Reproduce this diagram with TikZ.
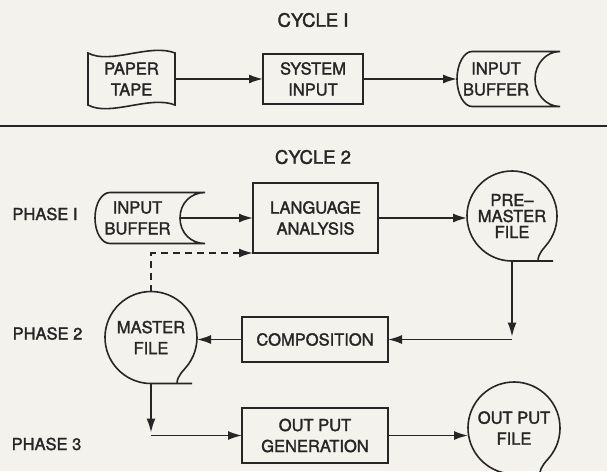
\documentclass[tikz,border=0pt]{standalone}
\usepackage{fontspec}
\setmainfont{TeX Gyre Heros}[FakeBold=1.8]
\usetikzlibrary{arrows.meta,positioning,calc}
\definecolor{paper}{RGB}{244,242,237}
\definecolor{ink}{RGB}{38,38,38}
% outline of an on-line storage symbol round a node
\newcommand{\drawbuffer}[1]{%
  \draw[flowline] (#1.west) .. controls +(0,-15) and +(-8,0) .. ([xshift=15pt]#1.north west)
    -- ([xshift=25pt]#1.north east) .. controls +(-14,0) and +(0,-15) .. (#1.east)
    .. controls +(0,15) and +(-14,0) .. ([xshift=25pt]#1.south east)
    -- ([xshift=15pt]#1.south west) .. controls +(-8,0) and +(0,15) .. (#1.west);}
% outline of a magnetic tape symbol round a node
\newcommand{\drawtapefile}[2]{%
  \draw[flowline] ([shift={(35:#2)}]#1.center) arc[start angle=35, end angle=-270, radius=#2] -- +(41,0);
  \draw[flowline] ([shift={(35:#2)}]#1.center) .. controls +(-5,7) and +(0,-8) .. ($(#1.center)+(26,#2)$);}

\begin{document}
\begin{tikzpicture}[x=1pt,y=-1pt] % pixel units, y grows downwards
\tikzset{every node/.style={font=\fontsize{16.5}{21}\selectfont, text=ink, align=center, inner sep=0pt, outer sep=0pt}}
\tikzset{flowline/.style={draw=ink, line width=1.6pt}}
\tikzset{arr/.style={flowline, -{Latex[length=14pt,width=9pt]}}}
\tikzset{procbox/.style={draw=ink, line width=1.6pt, rectangle}}
\tikzset{tapefile/.style={circle, minimum size=90pt}} % outline drawn by \drawtapefile
\tikzset{bufferbox/.style={minimum width=80pt, minimum height=53pt}}
\tikzset{titletext/.style={font=\fontsize{18.5}{22}\selectfont}}

\fill[paper] (0,0) rectangle (607,471);
\useasboundingbox (0,0) rectangle (607,471);

% cycle 1
\node[titletext] (cycA) at (313,20) {CYCLE I};
\node[minimum width=87pt, minimum height=52pt] (tape) at (131.5,79) {PAPER\\TAPE};
\node[procbox, minimum width=100pt, minimum height=50pt] (sysin) at (313,79) {SYSTEM\\INPUT};
\node[bufferbox, minimum width=78pt, minimum height=55pt] (bufA) at (496,79) {INPUT\\BUFFER};

\draw[flowline] (tape.north west) .. controls +(22,12) and +(-25,-10) .. (tape.north east)
  -- (tape.south east) .. controls +(-25,-10) and +(22,12) .. (tape.south west) -- cycle;
\drawbuffer{bufA}

\draw[arr] (tape.east) -- (sysin.west);
\draw[arr] (sysin.east) -- (bufA.west);

\draw[draw=ink, line width=2.4pt] (0,126) -- (607,126);

% cycle 2
\node[titletext] (cycB) at (313,157) {CYCLE 2};
\node (phA) at (45,214) {PHASE I};
\node (phB) at (47.5,333.5) {PHASE 2};
\node (phC) at (46.5,444) {PHASE 3};

\node[bufferbox, minimum width=85pt, minimum height=51pt] (bufB) at (137.5,218) {INPUT\\BUFFER};
\node[procbox, minimum width=125pt, minimum height=70pt] (lang) at (315.5,218) {LANGUAGE\\ANALYSIS};
\node[tapefile] (pm) at (512,216) {PRE--\\[-5pt]MASTER\\[-5pt]FILE};
\node[procbox, minimum width=146pt, minimum height=45pt] (comp) at (315,339.5) {COMPOSITION};
\node[tapefile, minimum size=92pt] (mf) at (151,337.5) {MASTER\\FILE};
\node[procbox, minimum width=146pt, minimum height=55pt] (og) at (315,435.5) {OUT PUT\\GENERATION};
\node[tapefile, minimum size=92pt] (opf) at (514,428) {OUT PUT\\FILE};

\drawbuffer{bufB}
\drawtapefile{pm}{45}
\drawtapefile{mf}{46}
\drawtapefile{opf}{46}

\coordinate (pmturn) at (pm.south |- comp.east);
\coordinate (mfturn) at (mf.south |- og.west);

\draw[arr] (bufB.east) -- (lang.west);
\draw[arr, dash pattern=on 7pt off 5pt] (mf.north) |- (lang.south west);
\draw[arr] (lang.east) -- (lang.east -| pm.west);
\draw[arr, shorten >=3pt] (pm.south) -- (pmturn);
\draw[arr] (pmturn) -- (comp.east);
\draw[arr] (comp.west) -- (comp.west -| mf.east);
\draw[arr, shorten >=3pt] (mf.south) -- (mfturn);
\draw[arr] (mfturn) -- (og.west);
\draw[arr] (og.east) -- (og.east -| opf.west);
\end{tikzpicture}
\end{document}
